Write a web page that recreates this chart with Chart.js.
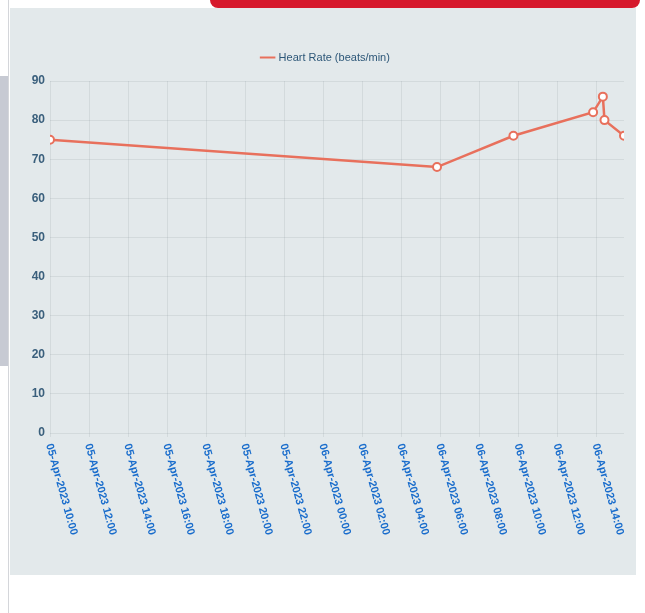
<!DOCTYPE html>
<html>
<head>
<meta charset="utf-8">
<script src="https://cdn.jsdelivr.net/npm/chart.js@4/dist/chart.umd.min.js"></script>
<style>
    html, body { margin: 0; padding: 0; background: #ffffff; }
    body { width: 645px; height: 613px; position: relative; overflow: hidden; }
    .card { position: absolute; left: 10px; top: 8px; width: 626px; height: 567px; background: #e3e9eb; }
    .topbar { position: absolute; left: 210px; top: -6px; width: 430px; height: 14px; background: #d6192c; border-radius: 0 0 8px 8px; }
    .edge { position: absolute; left: 8px; top: 0; width: 1px; height: 613px; background: #d4d6da; }
    .strip { position: absolute; left: 0; top: 76px; width: 8px; height: 290px; background: #c7cad3; }
    canvas { position: absolute; left: 0; top: 0; }
</style>
</head>
<body>
<div class="card"></div>
<div class="topbar"></div>
<div class="edge"></div>
<div class="strip"></div>
<canvas id="hrChart" width="645" height="613"></canvas>
<script>
// readings (local time) and heart rate values
const readingTimes = ['2023-04-05T10:00', '2023-04-06T05:50', '2023-04-06T09:45', '2023-04-06T13:50', '2023-04-06T14:20', '2023-04-06T14:25', '2023-04-06T15:25'];
const heartRates = [75, 68, 76, 82, 86, 80, 76];

// x ticks: hours after the first reading, with their labels
const tickHours = [0, 2, 4, 6, 8, 10, 12, 14, 16, 18, 20, 22, 24, 26, 28];
const tickLabels = ['05-Apr-2023 10:00', '05-Apr-2023 12:00', '05-Apr-2023 14:00', '05-Apr-2023 16:00', '05-Apr-2023 18:00',
    '05-Apr-2023 20:00', '05-Apr-2023 22:00', '06-Apr-2023 00:00', '06-Apr-2023 02:00', '06-Apr-2023 04:00',
    '06-Apr-2023 06:00', '06-Apr-2023 08:00', '06-Apr-2023 10:00', '06-Apr-2023 12:00', '06-Apr-2023 14:00'];

const t0 = Date.parse(readingTimes[0]);
const hours = readingTimes.map(t => (Date.parse(t) - t0) / 3600000);
const points = hours.map((h, i) => ({ x: h, y: heartRates[i] }));

const lineColor = '#e8705c';
const gridColor = 'rgba(110, 125, 135, 0.14)';

// extra room under the legend
const legendGap = {
    id: 'legendGap',
    beforeInit(chart) {
        const fit = chart.legend.fit;
        chart.legend.fit = function() {
            fit.bind(chart.legend)();
            this.height += 8;
        };
    }
};

// draws the x labels slanted downwards to the right
const slantedTicks = {
    id: 'slantedTicks',
    afterDraw(chart) {
        const ctx = chart.ctx;
        const xScale = chart.scales.x;
        const top = chart.chartArea.bottom + 11;
        ctx.save();
        ctx.font = 'bold 11px "Liberation Sans", Arial, sans-serif';
        ctx.fillStyle = '#1a6dcc';
        ctx.textAlign = 'left';
        ctx.textBaseline = 'middle';
        tickHours.forEach((h, i) => {
            const x = xScale.getPixelForValue(h);
            ctx.save();
            ctx.translate(x - 1, top);
            ctx.rotate(74.6 * Math.PI / 180);
            ctx.fillText(tickLabels[i], 0, 0);
            ctx.restore();
        });
        ctx.restore();
    }
};

const ctx = document.getElementById('hrChart').getContext('2d');
new Chart(ctx, {
    type: 'line',
    data: {
        datasets: [{
            label: 'Heart Rate (beats/min)',
            data: points,
            borderColor: lineColor,
            backgroundColor: lineColor,
            borderWidth: 2.5,
            pointRadius: 4,
            pointBorderWidth: 2,
            pointBackgroundColor: '#ffffff',
            pointBorderColor: lineColor,
            tension: 0
        }]
    },
    options: {
        responsive: false,
        animation: false,
        devicePixelRatio: 1,
        layout: {
            padding: { top: 42, right: 21, bottom: 38, left: 28 }
        },
        plugins: {
            legend: {
                display: true,
                position: 'top',
                labels: {
                    usePointStyle: true,
                    pointStyle: 'line',
                    boxWidth: 12,
                    padding: 10,
                    color: '#2d5778',
                    font: { family: '"Liberation Sans Narrow", "Liberation Sans", Arial, sans-serif', size: 11 }
                }
            },
            tooltip: { enabled: false }
        },
        scales: {
            x: {
                type: 'linear',
                min: hours[0],
                max: hours[hours.length - 1],
                afterBuildTicks: function(scale) {
                    scale.ticks = tickHours.map(v => ({ value: v }));
                },
                afterFit: function(scale) {
                    scale.height = 142;
                },
                ticks: { display: false },
                grid: { color: gridColor, drawTicks: true, tickLength: 4 },
                border: { display: false }
            },
            y: {
                min: 0,
                max: 90,
                afterFit: function(scale) {
                    scale.width = 22;
                },
                ticks: {
                    stepSize: 10,
                    padding: 5,
                    color: '#3a5f7c',
                    font: { family: '"Liberation Sans Narrow", "Liberation Sans", Arial, sans-serif', size: 12, weight: 'bold' }
                },
                grid: { color: gridColor, drawTicks: false },
                border: { display: false }
            }
        }
    },
    plugins: [legendGap, slantedTicks]
});
</script>
</body>
</html>
